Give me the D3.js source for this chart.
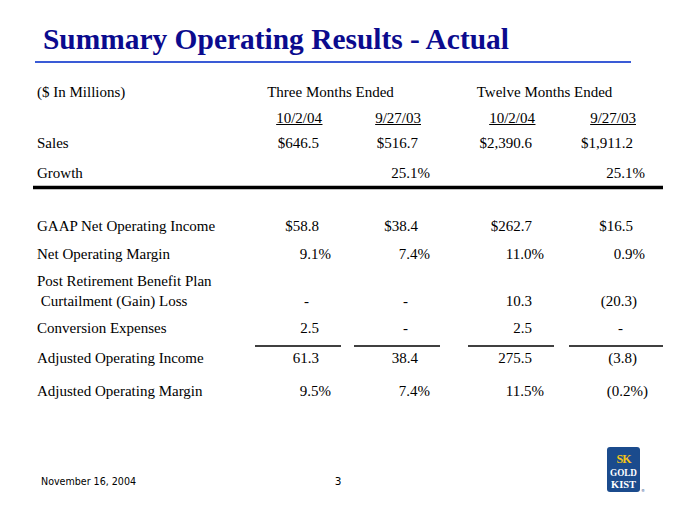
<!DOCTYPE html>
<html><head><meta charset="utf-8">
<script src="https://cdn.jsdelivr.net/npm/d3@7"></script>
<style>html,body{margin:0;padding:0;background:#fff;}svg{display:block;}</style>
</head><body>
<svg id="c" width="680" height="510"></svg>
<script>
// ---- data ----
const title = "Summary Operating Results - Actual";
const unitLabel = "($ In Millions)";
const groupHeaders = ["Three Months Ended", "Twelve Months Ended"];
const periods = ["10/2/04", "9/27/03", "10/2/04", "9/27/03"];
const rowLabels = ["Sales", "Growth", "GAAP Net Operating Income", "Net Operating Margin",
  "Post Retirement Benefit Plan| Curtailment (Gain) Loss", "Conversion Expenses",
  "Adjusted Operating Income", "Adjusted Operating Margin"];
const rowFormats = ["dollar", "pct", "dollar", "pct", "num", "num", "num", "pct"];
const threeMonths2004 = [646.5, null, 58.8, 9.1, 0, 2.5, 61.3, 9.5];
const threeMonths2003 = [516.7, 25.1, 38.4, 7.4, 0, 0, 38.4, 7.4];
const twelveMonths2004 = [2390.6, null, 262.7, 11.0, 10.3, 2.5, 275.5, 11.5];
const twelveMonths2003 = [1911.2, 25.1, 16.5, 0.9, -20.3, 0, -3.8, -0.2];
const footerDate = "November 16, 2004";
const pageNumber = "3";

const series = [threeMonths2004, threeMonths2003, twelveMonths2004, twelveMonths2003];

// ---- layout ----
const svg = d3.select("#c");
const serif = "'Liberation Serif','Times New Roman',serif";
const col = d3.scaleOrdinal().domain(d3.range(4)).range([319, 418, 532, 633]);
const rowY = d3.scaleOrdinal().domain(d3.range(rowLabels.length))
  .range([147.5, 177.5, 230.5, 259, 305.5, 333, 363, 395.5]);
const labelX = 37;

function fmt(v, type) {
  if (v === null) return "";
  if (v === 0) return "-";
  const a = Math.abs(v);
  let s = type === "dollar" ? d3.format("$,.1f")(a) : type === "pct" ? d3.format(".1f")(a) + "%" : d3.format(".1f")(a);
  return v < 0 ? "(" + s + ")" : s;
}

// title
svg.append("text").attr("x", 43).attr("y", 49)
  .attr("font-family", serif).attr("font-weight", "bold").attr("font-size", 29)
  .attr("fill", "#0b0b8e").attr("textLength", 466).attr("lengthAdjust", "spacingAndGlyphs")
  .text(title);
svg.append("line").attr("x1", 35).attr("x2", 631).attr("y1", 62).attr("y2", 62)
  .attr("stroke", "#3a5bd6").attr("stroke-width", 2);

const g = svg.append("g").attr("font-family", serif).attr("font-size", 15).attr("fill", "#000");

// header
g.append("text").attr("x", labelX).attr("y", 97).text(unitLabel);
g.selectAll("text.grp").data(groupHeaders).join("text").attr("class", "grp")
  .attr("x", (d, i) => (col(i * 2) + col(i * 2 + 1)) / 2 + (i === 0 ? -38 : -38))
  .attr("y", 97).attr("text-anchor", "middle").text(d => d);

const per = g.selectAll("g.per").data(periods).join("g").attr("class", "per");
per.append("text").attr("x", (d, i) => col(i) + 3).attr("y", 123)
  .attr("text-anchor", "end").text(d => d);
per.each(function () {
  const t = d3.select(this).select("text");
  const bb = t.node().getBBox();
  d3.select(this).append("line").attr("x1", bb.x).attr("x2", bb.x + bb.width)
    .attr("y1", 124.5).attr("y2", 124.5).attr("stroke", "#000").attr("stroke-width", 1);
});

// thick rule
g.append("line").attr("x1", 33).attr("x2", 663).attr("y1", 187.5).attr("y2", 187.5)
  .attr("stroke", "#000").attr("stroke-width", 3.5);

// row labels
rowLabels.forEach((lab, r) => {
  const parts = lab.split("|");
  parts.forEach((p, k) => {
    g.append("text").attr("x", labelX).attr("y", rowY(r) - (parts.length - 1 - k) * 20)
      .attr("xml:space", "preserve").style("white-space", "pre").text(p);
  });
});

// cells
series.forEach((vals, c) => {
  vals.forEach((v, r) => {
    const s = fmt(v, rowFormats[r]);
    if (!s) return;
    let x = col(c);
    if (s === "-") x -= 10;
    else if (rowFormats[r] === "pct") x += 12 + (v < 0 ? 3 : 0);
    else if (v < 0) x += 4;
    g.append("text").attr("x", x).attr("y", rowY(r)).attr("text-anchor", "end").text(s);
  });
});

// subtotal underlines above Adjusted Operating Income
const subIdx = rowLabels.indexOf("Adjusted Operating Income");
g.selectAll("line.sub").data(d3.range(4)).join("line").attr("class", "sub")
  .attr("x1", c => col(c) - 64).attr("x2", c => col(c) + (c === 3 ? 30 : 22))
  .attr("y1", rowY(subIdx) - 17).attr("y2", rowY(subIdx) - 17)
  .attr("stroke", "#000").attr("stroke-width", 1.5);

// footer
const sans = "'DejaVu Sans','Noto Sans',sans-serif";
svg.append("text").attr("x", 41).attr("y", 485).attr("font-family", sans).attr("font-size", 10.5)
  .attr("textLength", 95).attr("lengthAdjust", "spacingAndGlyphs").text(footerDate);
svg.append("text").attr("x", 338).attr("y", 485).attr("font-family", sans).attr("font-size", 10.5)
  .attr("text-anchor", "middle").text(pageNumber);

// logo
const logo = svg.append("g").attr("transform", "translate(607,447)");
logo.append("rect").attr("width", 33).attr("height", 45).attr("rx", 3).attr("fill", "#1b4b8d");
logo.append("text").attr("x", 16.5).attr("y", 16).attr("text-anchor", "middle")
  .attr("font-family", serif).attr("font-weight", "bold").attr("font-size", 12)
  .attr("fill", "#f5c518").attr("letter-spacing", -1).text("SK");
logo.append("text").attr("x", 16.5).attr("y", 29).attr("text-anchor", "middle")
  .attr("font-family", serif).attr("font-weight", "bold").attr("font-size", 11)
  .attr("fill", "#fff").attr("textLength", 27).attr("lengthAdjust", "spacingAndGlyphs").text("GOLD");
logo.append("text").attr("x", 16.5).attr("y", 41).attr("text-anchor", "middle")
  .attr("font-family", serif).attr("font-weight", "bold").attr("font-size", 11)
  .attr("fill", "#fff").attr("textLength", 25).attr("lengthAdjust", "spacingAndGlyphs").text("KIST");
svg.append("text").attr("x", 641).attr("y", 492).attr("font-family", sans).attr("font-size", 4)
  .attr("fill", "#1b4b8d").text("®");
</script>
</body></html>
